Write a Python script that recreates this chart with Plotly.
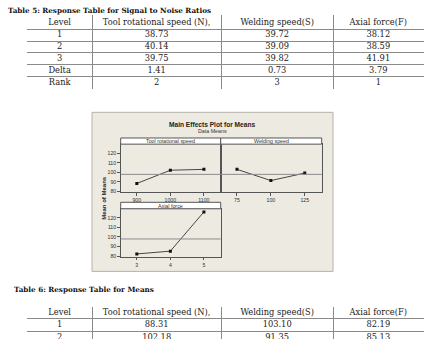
import plotly.graph_objects as go

W, H = 436, 341

# ---------------- data ----------------
t5_header = ["Level", "Tool rotational speed (N),", "Welding speed(S)", "Axial force(F)"]
t5_level = ["1", "2", "3", "Delta", "Rank"]
t5_N = ["38.73", "40.14", "39.75", "1.41", "2"]
t5_S = ["39.72", "39.09", "39.82", "0.73", "3"]
t5_F = ["38.12", "38.59", "41.91", "3.79", "1"]

t6_header = ["Level", "Tool rotational speed (N),", "Welding speed(S)", "Axial force(F)"]
t6_level = ["1", "2"]
t6_N = ["88.31", "102.18"]
t6_S = ["103.10", "91.35"]
t6_F = ["82.19", "85.13"]

n_levels = ["900", "1000", "1100"]
n_means = [88.31, 102.18, 103.1]
s_levels = ["75", "100", "125"]
s_means = [103.10, 91.35, 99.2]
f_levels = ["3", "4", "5"]
f_means = [82.19, 85.13, 126.2]
grand_mean = 97.86
y_ticks = [80, 90, 100, 110, 120]

panel_titles = ["Tool rotational speed", "Welding speed", "Axial force"]


def px(x):
    return x / W


def py(y):
    return 1 - y / H


SERIF = "DejaVu Serif"
SANS = "Liberation Sans"
GRID = "#8a8a8a"

# table layout (pixel units)
col_w = [65.3, 128.7, 112.3, 90]
col_edges = [0]
for w in col_w:
    col_edges.append(col_edges[-1] + w)
col_centers = [(a + b) / 2 for a, b in zip(col_edges[:-1], col_edges[1:])]

fig = go.Figure()


def add_table(idx, header, cols, top, bottom, hh, rh, n_rows):
    """Table drawn as a text scatter on its own hidden axes; gridlines are the cell borders."""
    xa, ya = f"x{idx}", f"y{idx}"
    row_edges = [0, hh] + [hh + rh * (k + 1) for k in range(n_rows)]
    row_centers = [hh / 2] + [hh + rh * (k + 0.5) for k in range(n_rows)]
    xs, ys, ts = [], [], []
    for c, cx in enumerate(col_centers):
        xs.append(cx); ys.append(row_centers[0]); ts.append(header[c])
        for r, val in enumerate(cols[c]):
            xs.append(cx); ys.append(row_centers[r + 1]); ts.append(val)
    fig.add_trace(go.Scatter(
        x=xs, y=ys, text=ts, mode="text", textposition="middle center",
        textfont=dict(family=SERIF, size=8.3, color="#222222"),
        xaxis=xa, yaxis=ya, showlegend=False, hoverinfo="skip", cliponaxis=True,
    ))
    height = bottom - top
    fig.update_layout(**{
        f"xaxis{idx}": dict(domain=[px(27 - 0.5), px(27 + col_edges[-1] + 0.5)],
                            range=[-0.5, col_edges[-1] + 0.5], anchor=ya,
                            tickvals=col_edges, showgrid=True, gridcolor=GRID, gridwidth=1,
                            showticklabels=False, ticks="", zeroline=False, showline=False,
                            fixedrange=True),
        f"yaxis{idx}": dict(domain=[py(bottom), py(top - 0.5)],
                            range=[height, -0.5], anchor=xa,
                            tickvals=[e for e in row_edges if e <= height + 0.01],
                            showgrid=True, gridcolor=GRID, gridwidth=1,
                            showticklabels=False, ticks="", zeroline=False, showline=False,
                            fixedrange=True),
    })


add_table(4, t5_header, [t5_level, t5_N, t5_S, t5_F], 16, 89.3, 13.3, 12, 5)
add_table(5, t6_header, [t6_level, t6_N, t6_S, t6_F], 309, 341, 11.7, 13, 2)

# ---------------- main effects panels ----------------
panels = [
    (n_levels, n_means, "x", "y"),
    (s_levels, s_means, "x2", "y2"),
    (f_levels, f_means, "x3", "y3"),
]
for levels, means, xa, ya in panels:
    fig.add_trace(go.Scatter(
        x=list(range(len(levels))), y=means, mode="lines+markers",
        line=dict(color="#333333", width=0.9),
        marker=dict(symbol="square", size=3, color="#111111"),
        xaxis=xa, yaxis=ya, showlegend=False, hoverinfo="skip",
    ))

ax_common = dict(showline=True, mirror=True, linecolor="#555555", linewidth=1,
                 showgrid=False, zeroline=False, ticks="outside", ticklen=2.5,
                 tickcolor="#555555", tickfont=dict(family=SANS, size=5.2, color="#333333"))
xr = [-0.48, 2.5]
yr = [79.0, 129.5]

fig.update_layout(
    width=W, height=H, margin=dict(l=0, r=0, t=0, b=0),
    paper_bgcolor="white", plot_bgcolor="white", showlegend=False,
    xaxis=dict(domain=[px(120.7), px(220.7)], range=xr, tickvals=[0, 1, 2],
               ticktext=n_levels, anchor="y", **ax_common),
    yaxis=dict(domain=[py(193.5), py(145)], range=yr, tickvals=y_ticks,
               anchor="x", **ax_common),
    xaxis2=dict(domain=[px(220.7), px(321.7)], range=xr, tickvals=[0, 1, 2],
                ticktext=s_levels, anchor="y2", **ax_common),
    yaxis2=dict(domain=[py(193.5), py(145)], range=yr, tickvals=y_ticks,
                anchor="x2", **{**ax_common, "ticks": "", "showticklabels": False}),
    xaxis3=dict(domain=[px(120.7), px(220.7)], range=xr, tickvals=[0, 1, 2],
                ticktext=f_levels, anchor="y3", **ax_common),
    yaxis3=dict(domain=[py(258.5), py(210)], range=yr, tickvals=y_ticks,
                anchor="x3", **ax_common),
)

shapes = [
    dict(type="rect", xref="paper", yref="paper", x0=px(92), x1=px(333),
         y0=py(273), y1=py(113), fillcolor="#EDEAE2",
         line=dict(color="#B5B2AA", width=1), layer="below"),
]
strips = [
    (120.7, 220.7, 138.8, 145),
    (220.7, 321.7, 138.8, 145),
    (120.7, 220.7, 203.5, 210),
]
for (x0, x1, y0, y1), title in zip(strips, panel_titles):
    shapes.append(dict(type="rect", xref="paper", yref="paper", x0=px(x0), x1=px(x1),
                       y0=py(y1), y1=py(y0), fillcolor="white",
                       line=dict(color="#555555", width=1)))
for xa, ya in [("x", "y"), ("x2", "y2"), ("x3", "y3")]:
    shapes.append(dict(type="line", xref=f"{xa} domain", yref=ya, x0=0, x1=1,
                       y0=grand_mean, y1=grand_mean,
                       line=dict(color="#8c8c8c", width=1)))
fig.update_layout(shapes=shapes)

ann = []
for (x0, x1, y0, y1), title in zip(strips, panel_titles):
    ann.append(dict(x=px((x0 + x1) / 2), y=py((y0 + y1) / 2), xref="paper", yref="paper",
                    text=title, showarrow=False, xanchor="center", yanchor="middle",
                    font=dict(family=SANS, size=5.3, color="#333333")))
ann += [
    dict(x=px(212), y=py(125), xref="paper", yref="paper", text="<b>Main Effects Plot for Means</b>",
         showarrow=False, xanchor="center", yanchor="middle",
         font=dict(family=SANS, size=6.6, color="#222222")),
    dict(x=px(212), y=py(131.5), xref="paper", yref="paper", text="Data Means",
         showarrow=False, xanchor="center", yanchor="middle",
         font=dict(family=SANS, size=5.3, color="#333333")),
    dict(x=px(104), y=py(199), xref="paper", yref="paper", text="<b>Mean of Means</b>",
         showarrow=False, xanchor="center", yanchor="middle", textangle=-90,
         font=dict(family=SANS, size=6, color="#222222")),
    dict(x=px(6), y=py(10.7), xref="paper", yref="paper",
         text="<b>Table 5: Response Table for Signal to Noise Ratios</b>",
         showarrow=False, xanchor="left", yanchor="middle",
         font=dict(family=SERIF, size=7.2, color="#111111")),
    dict(x=px(12.3), y=py(291.7), xref="paper", yref="paper",
         text="<b>Table 6: Response Table for Means</b>",
         showarrow=False, xanchor="left", yanchor="middle",
         font=dict(family=SERIF, size=7.2, color="#111111")),
]
fig.update_layout(annotations=ann)

fig.write_html("out.html")
